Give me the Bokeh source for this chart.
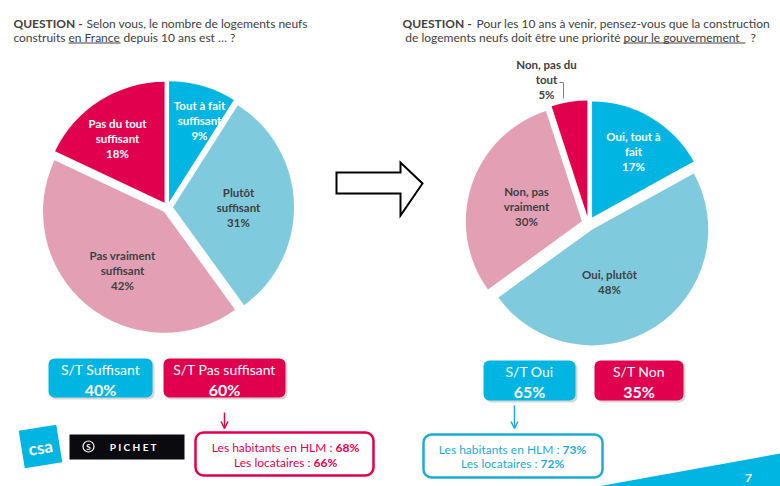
import numpy as np
from bokeh.plotting import figure
from bokeh.models import Range1d, ColumnDataSource, BoxAnnotation, Arrow, OpenHead
from bokeh.core.properties import value
from bokeh.embed import file_html
from bokeh.resources import INLINE

# ---------------- data ----------------
q1_cats = ["Tout à fait\nsuffisant", "Plutôt\nsuffisant", "Pas vraiment\nsuffisant", "Pas du tout\nsuffisant"]
q1_vals = [9, 31, 42, 18]
q2_cats = ["Oui, tout à\nfait", "Oui, plutôt", "Non, pas\nvraiment", "Non, pas du\ntout"]
q2_vals = [17, 48, 30, 5]
q1_total_cats = ["S/T Suffisant", "S/T Pas suffisant"]
q1_total_vals = [40, 60]
q2_total_cats = ["S/T Oui", "S/T Non"]
q2_total_vals = [65, 35]
q1_sub_cats = ["Les habitants en HLM :", "Les locataires :"]
q1_sub_vals = [68, 66]
q2_sub_cats = ["Les habitants en HLM :", "Les locataires :"]
q2_sub_vals = [73, 72]

# ---------------- style ----------------
CYAN = "#00B5E1"
LIGHT = "#7FCBDD"
PINK = "#E3A0B5"
CRIM = "#E1004E"
DARK = "#404040"
SUBCYAN = "#1FAAD6"
SLICE_COLORS = [CYAN, LIGHT, PINK, CRIM]
FONT = value("Lato")
W, H = 780, 486


def Y(v):
    return H - v


p = figure(width=W, height=H, x_range=Range1d(0, W), y_range=Range1d(0, H),
           output_backend="svg", toolbar_location=None,
           x_axis_location=None, y_axis_location=None, min_border=0)
p.grid.visible = False
p.outline_line_color = None
p.background_fill_color = "white"
p.border_fill_color = "white"


def draw_pie(vals, cats, cx, cy, r, d, label_pos, label_colors, lh=15):
    v = np.asarray(vals, float)
    f = v / v.sum()
    c1 = np.cumsum(f)
    c0 = c1 - f
    start = np.pi / 2 - 2 * np.pi * c0
    end = np.pi / 2 - 2 * np.pi * c1
    mid = (start + end) / 2
    src = ColumnDataSource(dict(x=cx + d * np.cos(mid), y=Y(cy) + d * np.sin(mid),
                                s=start, e=end, c=SLICE_COLORS))
    p.wedge(x="x", y="y", radius=r, start_angle="s", end_angle="e", direction="clock",
            fill_color="c", line_color=None, source=src)
    xs, ys, ts, cs = [], [], [], []
    for cat, val, (lx, ly), col in zip(cats, vals, label_pos, label_colors):
        lines = cat.split("\n") + [f"{val}%"]
        for i, t in enumerate(lines):
            xs.append(lx)
            ys.append(Y(ly + i * lh))
            ts.append(t)
            cs.append(col)
    p.text(x=xs, y=ys, text=ts, text_color=cs, text_font=FONT, text_font_size="11.5px",
           text_font_style="bold", text_align="center", text_baseline="middle")


draw_pie(q1_vals, q1_cats, 167, 207, 121, 5.5,
         [(199, 105), (238, 192), (122, 255), (117, 123)],
         ["white", DARK, DARK, "white"])
draw_pie(q2_vals, q2_cats, 588, 223, 116, 7,
         [(633, 136), (609, 274), (526, 191), (546, 64)],
         ["white", DARK, DARK, DARK])

# leader line for small slice
p.line([559, 563, 563], [Y(82), Y(82), Y(98)], line_color="#808080", line_width=1)


# ---------------- texts helper ----------------
def txt(x, y, t, size="12px", bold=False, color=DARK, align="left", baseline="middle", angle=0):
    p.text(x=[x], y=[Y(y)], text=[t], text_font=FONT, text_font_size=size,
           text_font_style="bold" if bold else "normal", text_color=color,
           text_align=align, text_baseline=baseline, angle=angle)


# ---------------- questions ----------------
L1, L2 = 22.5, 36.5
txt(13, L1, "QUESTION -", bold=True)
txt(86, L1, "Selon vous, le nombre de logements neufs")
txt(65, L2, "construits", align="right")
txt(68, L2, "en France")
txt(123, L2, "depuis 10 ans est … ?")
p.segment(x0=[68], y0=[Y(42.5)], x1=[120], y1=[Y(42.5)], line_color=DARK, line_width=1)

txt(402, L1, "QUESTION -", bold=True)
txt(476, L1, "Pour les 10 ans à venir, pensez-vous que la construction")
txt(620, L2, "de logements neufs doit être une priorité", align="right")
txt(623, L2, "pour le gouvernement")
txt(750, L2, "?")
p.segment(x0=[623], y0=[Y(42.5)], x1=[745], y1=[Y(42.5)], line_color=DARK, line_width=1)

# ---------------- middle arrow ----------------
p.patch([336, 400, 400, 422, 400, 400, 336],
        [Y(172), Y(172), Y(162), Y(183), Y(215), Y(193), Y(193)],
        fill_color="white", line_color="black", line_width=2, line_join="miter")


# ---------------- boxes ----------------
def rbox(l, r_, t, b, fill=None, line=None, lw=0, radius=6, shadow=True):
    if shadow:
        p.add_layout(BoxAnnotation(left=l + 2, right=r_ + 2, top=Y(t + 2), bottom=Y(b + 2),
                                   fill_color="black", fill_alpha=0.16, line_color=None,
                                   border_radius=radius, level="underlay"))
    p.add_layout(BoxAnnotation(left=l, right=r_, top=Y(t), bottom=Y(b),
                               fill_color=fill, fill_alpha=1.0 if fill else 0.0,
                               line_color=line, line_alpha=1.0, line_width=lw,
                               border_radius=radius, level="underlay"))


def totals(cats, vals, xspans, top, bottom):
    for cat, val, (l, r_), col in zip(cats, vals, xspans, [CYAN, CRIM]):
        rbox(l, r_, top, bottom, fill=col)
        cx = (l + r_) / 2
        txt(cx, top + 10.5, cat, size="14px", color="white", align="center")
        txt(cx, top + 30.5, f"{val}%", size="16px", bold=True, color="white", align="center")


totals(q1_total_cats, q1_total_vals, [(48, 152), (163, 285)], 358, 397)
totals(q2_total_cats, q2_total_vals, [(483, 575), (594, 683)], 360, 400)

# arrows
p.add_layout(Arrow(x_start=224, y_start=Y(412), x_end=224, y_end=Y(428),
                   end=OpenHead(size=7, line_color=CRIM, line_width=1.5),
                   line_color=CRIM, line_width=1.5))
p.add_layout(Arrow(x_start=514, y_start=Y(405), x_end=514, y_end=Y(428),
                   end=OpenHead(size=7, line_color=SUBCYAN, line_width=1.5),
                   line_color=SUBCYAN, line_width=1.5))


def subbox(cats, vals, l, r_, t, b, col, splits, ys):
    rbox(l, r_, t, b, fill="white", line=col, lw=2.5, radius=8, shadow=False)
    for cat, val, sx, yy in zip(cats, vals, splits, ys):
        txt(sx, yy, cat, size="12px", color=col, align="right")
        txt(sx + 3, yy, f"{val}%", size="12px", bold=True, color=col, align="left")


subbox(q1_sub_cats, q1_sub_vals, 195, 373, 432, 475, CRIM, [332, 310], [447, 462])
subbox(q2_sub_cats, q2_sub_vals, 423, 602, 434, 477, SUBCYAN, [559, 537], [449, 463])

# ---------------- logos & decoration ----------------
p.rect(x=[40], y=[Y(446)], width=38, height=38, angle=0.16, fill_color=CYAN, line_color=None)
txt(40, 447, "csa", size="17px", bold=True, color="white", align="center", angle=0.16)
p.rect(x=[126.5], y=[Y(446.5)], width=115, height=25, fill_color="#0A0A0F", line_color=None)
p.scatter(x=[88], y=[Y(446)], size=11, marker="circle", fill_color=None, line_color="white", line_width=1.2)
txt(88, 446.5, "S", size="8px", bold=True, color="white", align="center")
txt(133, 446.5, "P I C H E T", size="10px", bold=True, color="white", align="center")

p.patch([597, 780, 780], [Y(486), Y(453), Y(486)], fill_color=CYAN, line_color=None)
txt(748, 477, "7", size="12px", bold=True, color="white", align="center")

open("out.html", "w").write(file_html(p, INLINE))
